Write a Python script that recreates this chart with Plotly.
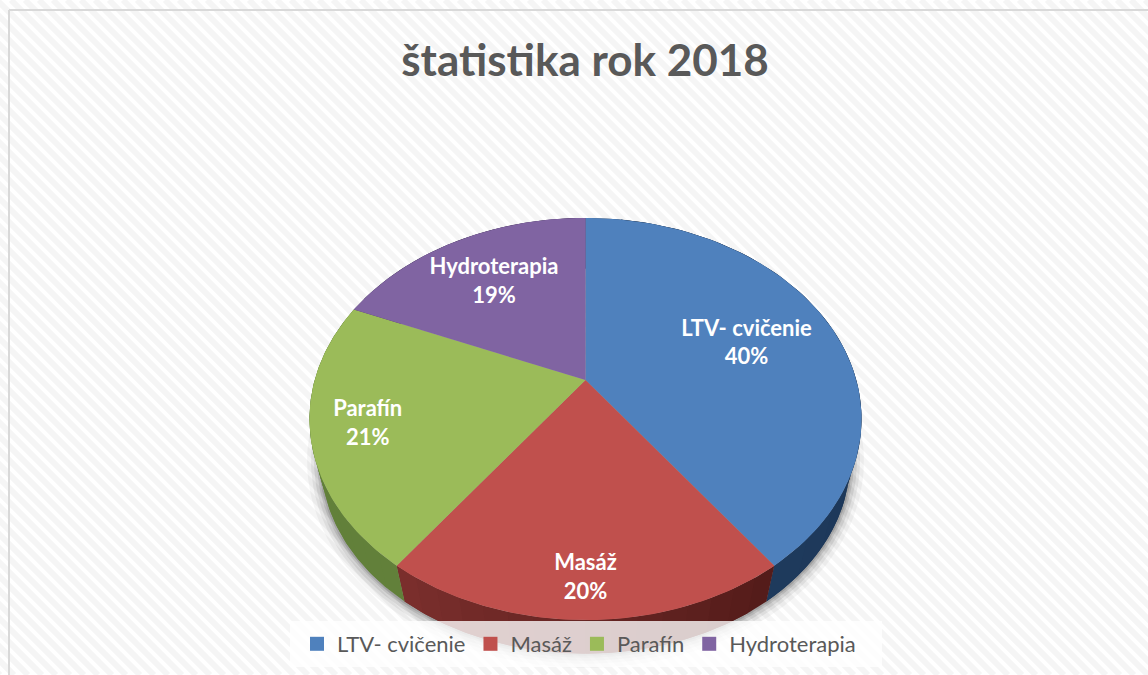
import numpy as np
import plotly.graph_objects as go

# ---- data ----
title_text = "štatistika rok 2018"
categories = ["LTV- cvičenie", "Masáž", "Parafín", "Hydroterapia"]
values = [40.0, 20.0, 21.4, 18.6]
face_colors = ["#4F81BD", "#C0504D", "#9BBB59", "#8064A2"]
wall_start = [(26, 46, 74), (84, 28, 26), (98, 128, 58), (74, 58, 98)]
wall_end = [(30, 58, 92), (122, 46, 44), (98, 128, 58), (74, 58, 98)]

# ---- perspective pie geometry (pixel-valued plot scale) ----
W, H = 1148, 675
CX, APEX_Y = 585.5, 380.0
A, B, K = 270.8, 193.5, 0.194
ELL_CY, WALL_SCALE, WALL_DY = 419.0, 0.958, 42.0
label_radius = [0.65, 0.85, 0.80, 0.68]
LABEL_DY = 2
FONT = "Lato"
WALL_STEPS = 16


def project(theta, r=1.0):
    w = 1 + K * r * np.cos(theta)
    return CX + A * r * np.sin(theta) / w, APEX_Y - B * r * np.cos(theta) / w


def lower(x, y):
    return CX + (x - CX) * WALL_SCALE, ELL_CY + (y - ELL_CY) * WALL_SCALE + WALL_DY


fractions = np.array(values) / sum(values)
edges = np.concatenate([[0], np.cumsum(fractions)]) * 2 * np.pi

fig = go.Figure()

# soft shadow under the pie
full = np.linspace(0, 2 * np.pi, 181)
fx, fy = lower(*project(full))
for grow, alpha in [(14, 0.04), (10, 0.06), (7, 0.08), (4, 0.10), (2, 0.12)]:
    sx = CX + (fx - CX) * (1 + grow / 264)
    sy = ELL_CY + WALL_DY + (fy - ELL_CY - WALL_DY) * (1 + grow / 192)
    fig.add_trace(go.Scatter(x=sx, y=sy, mode="lines", fill="toself", line=dict(width=0),
                             fillcolor=f"rgba(0,0,0,{alpha})", showlegend=False, hoverinfo="skip"))

# side walls, shaded along their length
for i in range(len(values)):
    cuts = np.linspace(edges[i], edges[i + 1], WALL_STEPS + 1)
    for s in range(WALL_STEPS):
        end = cuts[min(s + 2, WALL_STEPS)]
        t = np.linspace(cuts[s], end, 10)
        tx, ty = project(t)
        bx, by = lower(tx, ty)
        mix = s / (WALL_STEPS - 1)
        rgb = [round(a + (b - a) * mix) for a, b in zip(wall_start[i], wall_end[i])]
        fig.add_trace(go.Scatter(x=np.concatenate([tx, bx[::-1]]), y=np.concatenate([ty, by[::-1]]),
                                 mode="lines", fill="toself", line=dict(width=0),
                                 fillcolor=f"rgb({rgb[0]},{rgb[1]},{rgb[2]})",
                                 showlegend=False, hoverinfo="skip"))

# top faces
for i, name in enumerate(categories):
    t = np.linspace(edges[i], edges[i + 1], 90)
    tx, ty = project(t)
    fig.add_trace(go.Scatter(x=np.concatenate([[CX], tx, [CX]]), y=np.concatenate([[APEX_Y], ty, [APEX_Y]]),
                             mode="lines", fill="toself", line=dict(width=0), fillcolor=face_colors[i],
                             name=name, showlegend=False, hoverinfo="name"))

# data labels
mids = (edges[:-1] + edges[1:]) / 2
lx, ly = project(mids, np.array(label_radius))
fig.add_trace(go.Scatter(x=lx, y=ly + LABEL_DY, mode="text",
                         text=[f"{c}<br>{round(f * 100)}%" for c, f in zip(categories, fractions)],
                         textposition="middle center",
                         textfont=dict(family=FONT, size=22, color="white", weight=700),
                         showlegend=False, hoverinfo="skip"))

# legend entries
for name, col in zip(categories, face_colors):
    fig.add_trace(go.Scatter(x=[None], y=[None], mode="markers", name=name,
                             marker=dict(symbol="square", size=14, color=col)))

# diagonal background hatch
period = 14
stripes = " ".join(f"M{x},0L{x + H},{H}" for x in range(-H, W + period, period))

fig.update_layout(
    width=W, height=H, autosize=False,
    margin=dict(l=0, r=0, t=0, b=0),
    paper_bgcolor="white", plot_bgcolor="rgba(0,0,0,0)",
    xaxis=dict(range=[0, W], visible=False, fixedrange=True),
    yaxis=dict(range=[H, 0], visible=False, fixedrange=True),
    title=dict(text=title_text, x=585 / W, xanchor="center", y=1 - 61 / H, yanchor="middle",
               font=dict(family=FONT, size=44, color="#595959", weight=700)),
    legend=dict(orientation="h", x=297 / W, xanchor="left", y=1 - 644 / H, yanchor="middle",
                bgcolor="rgba(0,0,0,0)", font=dict(family=FONT, size=22, color="#595959")),
    shapes=[
        dict(type="path", path=stripes, layer="below", line=dict(color="#F5F5F5", width=6)),
        dict(type="rect", x0=290, x1=882, y0=621, y1=667, layer="above",
             fillcolor="rgba(255,255,255,0.78)", line=dict(width=0)),
        dict(type="line", x0=9, x1=9, y0=10, y1=H, layer="above", line=dict(color="#D9D9D9", width=2)),
        dict(type="line", x0=9, x1=W, y0=10, y1=10, layer="above", line=dict(color="#D9D9D9", width=2)),
    ],
)
fig.write_html("out.html", config={"displayModeBar": False},
               post_script="document.body.style.margin='0';document.documentElement.style.overflow='hidden';")
